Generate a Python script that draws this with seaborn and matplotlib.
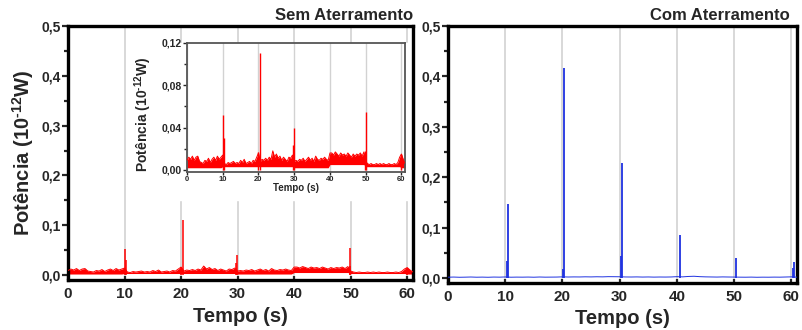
import numpy as np
import pandas as pd
import seaborn as sns
import matplotlib.pyplot as plt
from matplotlib.patches import Rectangle
from matplotlib.ticker import MultipleLocator

# >--dados--<

# eixo x comum
x_ticks = [0, 10, 20, 30, 40, 50, 60]
x_labels = ['0', '10', '20', '30', '40', '50', '60']

y_ticks = [0.0, 0.1, 0.2, 0.3, 0.4, 0.5]
y_labels = ['0,0', '0,1', '0,2', '0,3', '0,4', '0,5']

y_ticks_ins = [0.0, 0.04, 0.08, 0.12]
y_labels_ins = ['0,00', '0,04', '0,08', '0,12']

# Sem Aterramento: topo da faixa de ruido a cada 0,5 s (em 1e-3 x 10^-12 W)
t_sem = np.arange(0, 61.01, 0.5)
topo_sem = [
    # 0-10 s
    9, 12, 10, 13, 9, 12, 13, 8, 7, 6, 9, 8, 11, 7, 10, 12, 9, 13, 10, 12,
    # 10-20 s
    14, 6, 5, 7, 6, 7, 8, 6, 7, 6, 9, 7, 10, 6, 7, 8, 6, 9, 8, 12,
    # 20-30 s
    16, 8, 10, 9, 11, 9, 12, 10, 18, 12, 15, 11, 13, 9, 12, 10, 8, 12, 11, 14,
    # 30-40 s
    8, 9, 8, 10, 9, 11, 8, 10, 12, 9, 11, 8, 13, 10, 9, 11, 10, 12, 10, 9,
    # 40-50 s
    16, 16, 14, 17, 15, 13, 16, 14, 15, 13, 16, 14, 12, 15, 13, 15, 14, 16, 13, 17,
    # 50-60 s
    8, 6, 5, 6, 5, 5, 6, 5, 6, 5, 6, 5, 5, 6, 5, 5, 6, 5, 7, 12,
    # 60-61 s
    15, 10, 6,
]
# fundo da faixa por trecho de 10 s
base_sem_trecho = [2, 3, 3, 2, 5, 3, 2]
pontos_trecho = [20, 20, 20, 20, 20, 20, 3]

picos_sem_t = [10.05, 10.25, 20.0, 20.3, 29.65, 29.85, 49.8, 49.95, 60.0]
picos_sem_v = [0.052, 0.030, 0.017, 0.111, 0.024, 0.040, 0.018, 0.055, 0.015]

# Com Aterramento: linha de base a cada 1 s (em 1e-3 x 10^-12 W)
t_com = np.arange(0, 61.01, 1.0)
topo_com = [
    1.5, 1.8, 1.4, 1.6, 1.9, 1.5, 1.7, 1.4, 1.8, 1.6,
    2.0, 1.5, 1.7, 1.6, 1.8, 1.5, 1.9, 1.6, 1.7, 1.8,
    2.2, 1.9, 2.1, 2.0, 2.3, 2.1, 2.4, 2.2, 2.6, 2.5,
    2.4, 2.0, 1.9, 2.1, 1.8, 2.0, 1.7, 1.9, 1.8, 2.0,
    2.6, 2.2, 3.0, 3.4, 2.6, 2.2, 2.0, 1.8, 2.1, 1.9,
    1.8, 1.6, 1.5, 1.7, 1.4, 1.6, 1.5, 1.7, 1.6, 1.9,
    2.2, 1.6,
]

picos_com_t = [10.35, 10.45, 20.15, 20.25, 30.3, 30.4, 40.5, 50.3, 60.3, 60.4]
picos_com_v = [0.034, 0.147, 0.018, 0.416, 0.043, 0.229, 0.086, 0.040, 0.020, 0.032]

sem = pd.DataFrame({'t': t_sem, 'topo': np.array(topo_sem) * 1e-3,
                    'base': np.repeat(base_sem_trecho, pontos_trecho) * 1e-3})
com = pd.DataFrame({'t': t_com, 'topo': np.array(topo_com) * 1e-3})

VERMELHO = '#ff0000'
AZUL = '#1f32e0'
CINZA = '#d2d2d2'

sns.set_style('ticks')
plt.rcParams['font.family'] = ['Liberation Sans', 'DejaVu Sans']
plt.rcParams['font.weight'] = 'bold'
plt.rcParams['mathtext.fontset'] = 'custom'
plt.rcParams['mathtext.rm'] = 'Liberation Sans:bold'
plt.rcParams['mathtext.bf'] = 'Liberation Sans:bold'

ROTULO_Y = 'Potência (10$^{\\text{-12}}$W)'


def estilo(ax, yt, yl, ylim, fs_y, fs_x, lw_frame, cor_frame='black'):
    ax.set_xlim(0, 61)
    ax.set_ylim(*ylim)
    ax.set_xticks(x_ticks)
    ax.set_xticklabels(x_labels, fontsize=fs_x, fontweight='bold')
    ax.set_yticks(yt)
    ax.set_yticklabels(yl, fontsize=fs_y, fontweight='bold')
    ax.yaxis.set_minor_locator(MultipleLocator((yt[1] - yt[0]) / 2))
    ax.grid(axis='x', color=CINZA, lw=1.2)
    ax.set_axisbelow(True)
    for s in ax.spines.values():
        s.set_linewidth(lw_frame)
        s.set_color(cor_frame)
        s.set_visible(True)


def desenha(ax, df, cor, lw_pico, picos_t, picos_v, com_base=True):
    if com_base:
        ax.fill_between(df['t'], df['base'], df['topo'], color=cor, lw=0, zorder=2)
    sns.lineplot(data=df, x='t', y='topo', ax=ax, color=cor, lw=0.7,
                 estimator=None, zorder=3)
    ax.vlines(picos_t, 0, picos_v, color=cor, lw=lw_pico, zorder=3)
    ax.set_xlabel('')
    ax.set_ylabel('')


fig = plt.figure(figsize=(8.02, 3.30), dpi=100)
ax1 = fig.add_axes([0.0848, 0.1515, 0.430, 0.7697])
ax2 = fig.add_axes([0.5586, 0.1424, 0.4352, 0.7788])

# painel esquerdo
desenha(ax1, sem, VERMELHO, 1.1, picos_sem_t, picos_sem_v)
estilo(ax1, y_ticks, y_labels, (-0.01, 0.5), 10, 11, 2.4)
ax1.tick_params(axis='y', which='major', direction='out', length=4, width=1.6, pad=1)
ax1.tick_params(axis='y', which='minor', direction='out', length=3, width=1.6)
ax1.tick_params(axis='x', direction='in', length=3, width=1.6, pad=5)
ax1.set_ylabel(ROTULO_Y, fontsize=14.5, fontweight='bold')
ax1.yaxis.set_label_coords(-0.093, 0.5)
ax1.set_xlabel('Tempo (s)', fontsize=14.5, fontweight='bold')
ax1.xaxis.set_label_coords(0.5, -0.105)
ax1.text(1.0, 1.012, 'Sem Aterramento', transform=ax1.transAxes, ha='right',
         va='bottom', fontsize=12, fontweight='bold')

# fundo branco do grafico inserido
ax1.add_patch(Rectangle((140 / 802, 1 - 200 / 330), (408 - 140) / 802, (200 - 43) / 330,
                        transform=fig.transFigure, color='white', zorder=4,
                        clip_on=False))

# painel direito
desenha(ax2, com, AZUL, 1.3, picos_com_t, picos_com_v, com_base=False)
estilo(ax2, y_ticks, y_labels, (-0.01, 0.5), 10, 11, 2.4)
ax2.tick_params(axis='y', which='major', direction='out', length=4, width=1.6, pad=1)
ax2.tick_params(axis='y', which='minor', direction='out', length=3, width=1.6)
ax2.tick_params(axis='x', direction='in', length=3, width=1.6, pad=5)
ax2.set_xlabel('Tempo (s)', fontsize=14.5, fontweight='bold')
ax2.xaxis.set_label_coords(0.5, -0.101)
ax2.text(0.98, 1.012, 'Com Aterramento', transform=ax2.transAxes, ha='right',
         va='bottom', fontsize=12, fontweight='bold')

# grafico inserido
axi = fig.add_axes([0.2332, 0.4788, 0.2718, 0.3909])
axi.set_facecolor('white')
desenha(axi, sem, VERMELHO, 1.0, picos_sem_t, picos_sem_v)
estilo(axi, y_ticks_ins, y_labels_ins, (-0.002, 0.12), 7.5, 5.5, 1.3, '#555555')
axi.grid(axis='x', color=CINZA, lw=1.0)
axi.tick_params(axis='y', which='major', direction='out', length=3, width=1.0, pad=1)
axi.tick_params(axis='y', which='minor', direction='out', length=2, width=1.0)
axi.tick_params(axis='x', direction='out', length=2, width=1.0, pad=1)
axi.set_ylabel(ROTULO_Y, fontsize=10, fontweight='bold')
axi.yaxis.set_label_coords(-0.15, 0.45)
axi.set_xlabel('Tempo (s)', fontsize=7, fontweight='bold')
axi.xaxis.set_label_coords(0.5, -0.085)

fig.savefig('out.png', dpi=100)
